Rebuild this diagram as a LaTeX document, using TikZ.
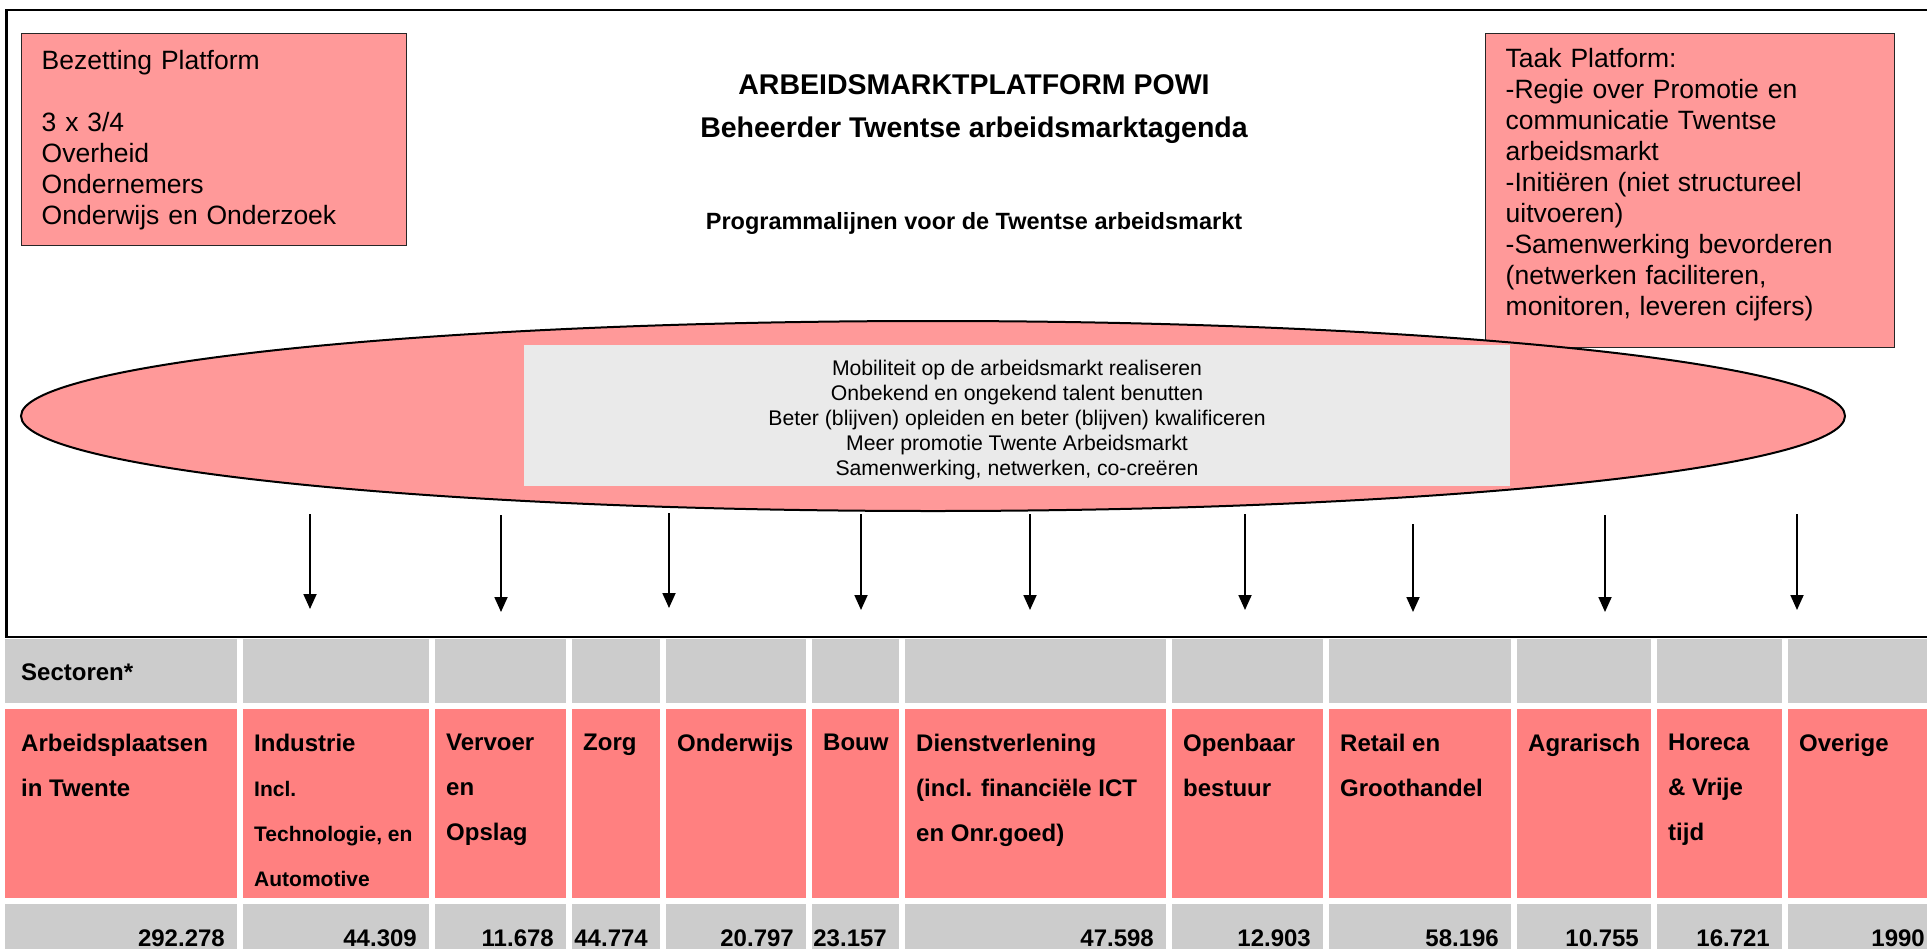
\documentclass[tikz,border=0pt]{standalone}
\usepackage{fontspec}
\setmainfont{Liberation Sans}
\usetikzlibrary{shapes.geometric, arrows.meta, positioning, calc}

\definecolor{roze}{HTML}{FF9999}
\definecolor{tabelroze}{HTML}{FF8080}
\definecolor{tabelgrijs}{HTML}{CCCCCC}
\definecolor{lijngrijs}{HTML}{EAEAEA}
\newcommand{\kleinletter}{\fontsize{21}{45}\selectfont}

\begin{document}
\begin{tikzpicture}[x=1pt, y=-1pt,
    kader/.style={rectangle, draw=black!85, line width=1.4pt, fill=roze, anchor=north west, align=left, inner xsep=20pt, inner ysep=0pt, font=\fontsize{26.5}{31}\selectfont},
    titel/.style={anchor=base, inner sep=0pt, font=\fontsize{28.5}{34}\selectfont\bfseries},
    lijnen/.style={rectangle, fill=lijngrijs, align=center, inner sep=0pt, font=\fontsize{21.2}{25}\selectfont},
    pijl/.style={-{Triangle[length=15pt, width=13pt]}, line width=1.8pt},
    kop/.style={anchor=north west, align=left, inner sep=0pt, font=\fontsize{24}{45}\selectfont\bfseries},
    getal/.style={anchor=base east, inner sep=0pt, font=\fontsize{24}{28}\selectfont\bfseries}
]
    \useasboundingbox (0,0) rectangle (1927,948);
    \clip (0,0) rectangle (1927,948);
    \fill[white] (0,0) rectangle (1927,948);

    % Kader rond het platform (rechterkant valt buiten beeld)
    \draw[line width=2.2pt] (6.5,10) rectangle (1990,637);

    % Bovenste rij: bezetting, titels en taak
    \node[kader, minimum width=385, minimum height=212, text width=345] (bezetting) at (21,33)
        {Bezetting Platform\\[31pt]3 x 3/4\\Overheid\\Ondernemers\\Onderwijs en Onderzoek};

    \node[kader, minimum width=409, minimum height=314, text width=369] (taak) at (1485,33)
        {Taak Platform:\\-Regie over Promotie en\\communicatie Twentse\\arbeidsmarkt\\-Initiëren (niet structureel\\uitvoeren)\\-Samenwerking bevorderen\\(netwerken faciliteren,\\monitoren, leveren cijfers)\rule[-17pt]{0pt}{1pt}};

    \node[titel] (platform) at (974,94.5) {ARBEIDSMARKTPLATFORM POWI};
    \node[titel] (beheerder) at (974,137) {Beheerder Twentse arbeidsmarktagenda};
    \node[titel, font=\fontsize{23.5}{28}\selectfont\bfseries] (programma) at (974,229.5) {Programmalijnen voor de Twentse arbeidsmarkt};

    % Ovaal met de programmalijnen
    \node[ellipse, draw=black, line width=2pt, fill=roze, minimum width=1824, minimum height=190, inner sep=0pt] (ovaal) at (933,416) {};
    \node[lijnen, minimum width=986, minimum height=141] (lijnen) at (1017,415.5)
        {\rule{0pt}{25pt}Mobiliteit op de arbeidsmarkt realiseren\\Onbekend en ongekend talent benutten\\Beter (blijven) opleiden en beter (blijven) kwalificeren\\Meer promotie Twente Arbeidsmarkt\\Samenwerking, netwerken, co-creëren};

    % Pijlen naar de sectoren
    \foreach \x/\ya/\yb [count=\i] in {310/514/609, 501/515/612, 669/513/608, 861/514/610, 1030/514/610, 1245/514/610, 1413/524/612, 1605/515/612, 1797/514/610}{
        \coordinate (van\i) at (\x,\ya);
        \coordinate (naar\i) at (\x,\yb);
        \draw[pijl] (van\i) -- (naar\i);
    }

    % Tabel: sectoren, namen en aantallen
    \foreach \l/\r/\kop/\getal [count=\i] in {
        5/237/{Arbeidsplaatsen\\in Twente}/292.278,
        243/429/{Industrie\\\kleinletter Incl.\\\kleinletter Technologie, en\\\kleinletter Automotive}/44.309,
        435/566/{Vervoer\\en\\Opslag}/11.678,
        572/660/{Zorg}/44.774,
        666/806/{Onderwijs}/20.797,
        812/899/{Bouw}/23.157,
        905/1166/{Dienstverlening\\(incl. financiële ICT\\en Onr.goed)}/47.598,
        1172/1323/{Openbaar\\bestuur}/12.903,
        1329/1511/{Retail en\\Groothandel}/58.196,
        1517/1651/{Agrarisch}/10.755,
        1657/1782/{Horeca\\\& Vrije\\tijd}/16.721,
        1788/1937/{Overige}/1990}{
        \fill[tabelgrijs] (\l,639) rectangle (\r,703);
        \fill[tabelroze] (\l,709) rectangle (\r,898);
        \fill[tabelgrijs] (\l,904) rectangle (\r,960);
        \pgfmathsetmacro\tx{\l+11+5*(\i==1)}
        \node[kop] (sector\i) at (\tx,733.5) {\kop};
        \node[getal] (aantal\i) at (\r-12,946) {\getal};
    }
    \node[getal, anchor=base west] (sectoren) at (21,680) {Sectoren*};
\end{tikzpicture}
\end{document}
